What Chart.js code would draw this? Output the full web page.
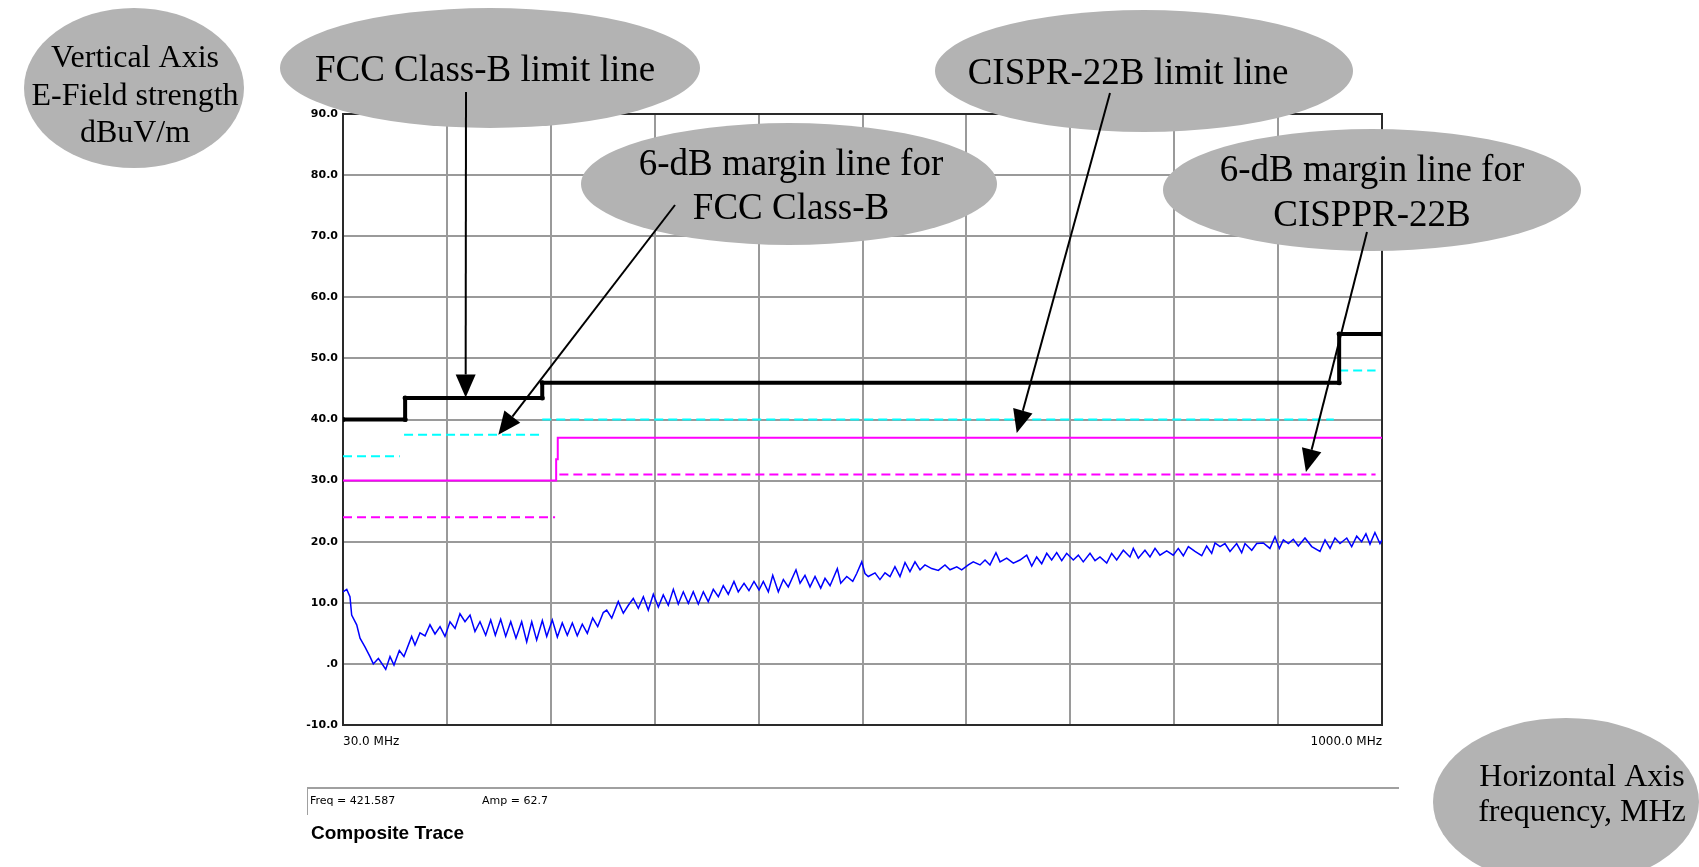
<!DOCTYPE html>
<html>
<head>
<meta charset="utf-8">
<title>Composite Trace</title>
<script src="https://cdn.jsdelivr.net/npm/chart.js@4.4.1/dist/chart.umd.min.js"></script>
<style>
  html, body { margin: 0; padding: 0; background: #fff; }
  #wrap { position: relative; width: 1699px; height: 867px; }
</style>
</head>
<body>
<div id="wrap"><canvas id="emiChart" width="1699" height="867"></canvas></div>
<script>
// Limit lines (MHz / dBuV/m)
const fccFreq = [30, 88, 88, 216, 216, 960, 960, 1000];
const fccLimit = [40, 40, 43.5, 43.5, 46, 46, 54, 54];

const fccMarginFreq = [30, 83, 85, 87, 216, 216, 216, 955, 957, 960, 994];
const fccMargin = [34, 34, null, 37.5, 37.5, null, 40, 40, null, 48, 48];

const cisprFreq = [30, 229, 229, 230.5, 230.5, 1000];
const cisprLimit = [30, 30, 33.5, 33.5, 37, 37];

const cisprMarginFreq = [30, 228, 230, 232, 994];
const cisprMargin = [24, 24, null, 31, 31];

// Composite trace
const traceFreq = [
  30, 33.5, 36.5, 38.1, 42.8, 45.9, 50.5, 55.2, 58.3, 63.0, 66.1, 69.9, 73.9, 77.6, 82.6, 86.9,
  94.1, 97.2, 101.9, 106.6, 111.2, 115.9, 120.6, 125.2, 129.9, 134.6, 139.2, 143.9, 148.6, 153.2,
  157.9, 163.2, 167.9, 172.2, 177.2, 181.9, 186.6, 191.5, 196.8, 201.5, 206.2, 210.8, 216.1, 220.2,
  225.4, 230.1, 234.7, 239.4, 244.1, 248.7, 253.4, 258.1, 263.1, 267.8, 273.0, 276.2, 280.9, 287.0,
  291.7, 296.4, 301.0, 305.7, 310.4, 315.0, 319.7, 324.4, 329.0, 333.7, 338.4, 343.0, 347.7, 352.4,
  357.0, 361.7, 366.4, 371.0, 375.7, 380.4, 385.0, 389.7, 395.0, 399.0, 404.4, 409.0, 413.7, 418.4,
  422.4, 427.1, 431.2, 436.4, 441.1, 445.7, 452.9, 456.7, 461.3, 466.0, 470.7, 476.0, 480.0, 484.7,
  491.5, 494.7, 500.3, 505.9, 509.6, 514.3, 517.3, 520.4, 526.7, 531.3, 536.0, 540.7, 545.3, 550.0,
  554.7, 559.3, 564.0, 568.7, 573.3, 579.6, 585.8, 592.0, 596.7, 603.0, 607.6, 613.8, 618.4, 624.7,
  629.4, 634.0, 639.6, 643.4, 649.6, 655.8, 662.0, 668.3, 673.0, 677.6, 682.3, 687.0, 691.6, 696.3,
  701.0, 705.6, 711.8, 716.5, 721.1, 727.4, 732.1, 736.7, 743.0, 747.6, 752.3, 758.5, 764.7, 767.8,
  772.5, 778.7, 783.4, 788.1, 792.7, 799.0, 805.1, 809.8, 814.5, 819.2, 825.4, 831.7, 836.3, 841.0,
  844.1, 848.8, 853.4, 858.1, 864.3, 869.0, 872.1, 878.4, 883.0, 889.2, 895.4, 900.1, 904.2, 907.9,
  912.6, 917.2, 921.9, 928.1, 934.4, 942.1, 946.8, 951.5, 956.1, 960.8, 967.1, 971.7, 976.4, 981.0,
  985.0, 988.8, 993.4, 998.1, 1000
];
const traceAmp = [
  11.8, 12.2, 11.0, 8.0, 6.4, 4.2, 2.8, 1.2, 0.0, 0.9, 0.1, -0.9, 1.2, -0.2, 2.2, 1.2,
  4.5, 3.1, 5.1, 4.6, 6.4, 4.9, 6.1, 4.5, 6.9, 5.8, 8.2, 6.9, 8.0, 5.3,
  6.9, 4.7, 7.2, 4.7, 7.3, 4.5, 6.9, 4.2, 6.9, 3.6, 6.9, 3.9, 7.1, 4.5,
  7.2, 4.4, 6.7, 4.7, 6.7, 4.6, 6.5, 5.0, 7.5, 6.1, 8.4, 8.8, 7.5, 10.2,
  8.3, 9.6, 10.7, 9.1, 11.0, 8.8, 11.4, 9.3, 11.3, 9.6, 12.2, 9.8, 11.8, 9.9,
  11.8, 9.8, 11.8, 10.2, 12.2, 11.0, 12.8, 11.4, 13.5, 11.8, 13.2, 12.0, 13.5, 12.1,
  13.5, 11.8, 14.5, 11.8, 13.8, 12.6, 15.4, 13.2, 14.5, 12.6, 14.3, 12.4, 14.0, 12.8,
  15.6, 13.2, 14.3, 13.5, 14.8, 16.7, 14.8, 14.3, 14.9, 13.8, 14.9, 14.3, 15.9, 14.3,
  16.6, 15.1, 16.7, 15.4, 16.2, 15.6, 15.3, 16.2, 15.4, 15.9, 15.4, 16.2, 16.7, 16.2,
  17.0, 16.2, 18.2, 16.7, 17.3, 16.5, 17.0, 17.8, 16.0, 17.5, 16.4, 18.1, 17.0, 18.2,
  16.9, 18.1, 17.0, 17.8, 16.7, 18.1, 16.9, 17.5, 16.5, 18.1, 17.0, 18.6, 17.5, 18.9,
  17.3, 18.6, 17.5, 18.9, 17.8, 18.5, 17.8, 18.9, 17.7, 19.2, 18.4, 17.7, 19.3, 18.1,
  19.8, 19.2, 19.7, 18.4, 19.7, 18.2, 19.7, 18.6, 19.7, 19.8, 18.9, 20.8, 18.9, 20.3,
  19.7, 20.4, 19.3, 20.6, 19.2, 18.4, 20.3, 18.9, 20.6, 19.7, 20.6, 19.2, 20.9, 20.0,
  21.3, 19.6, 21.5, 19.7, 20.3
];

const xTickLabels = ['30.0 MHz', '1000.0 MHz'];
const readoutText = ['Freq = 421.587', 'Amp = 62.7'];
const traceTitle = 'Composite Trace';

// Callout bubbles (page pixels) and the point on the chart each arrow hits
const bubbles = [
  { cx: 134, cy: 88, rx: 110, ry: 80, size: 32, lines: ['Vertical Axis', 'E-Field strength', 'dBuV/m'], baselines: [67, 105, 142], tx: 135 },
  { cx: 490, cy: 68, rx: 210, ry: 60, size: 37, lines: ['FCC Class-B limit line'], baselines: [81], tx: 485 },
  { cx: 789, cy: 184, rx: 208, ry: 61, size: 37, lines: ['6-dB margin line for', 'FCC Class-B'], baselines: [175, 219], tx: 791 },
  { cx: 1144, cy: 71, rx: 209, ry: 61, size: 37, lines: ['CISPR-22B limit line'], baselines: [84], tx: 1128 },
  { cx: 1372, cy: 190, rx: 209, ry: 61, size: 37, lines: ['6-dB margin line for', 'CISPPR-22B'], baselines: [181, 226], tx: 1372 },
  { cx: 1566, cy: 802, rx: 133, ry: 84, size: 32, lines: ['Horizontal Axis', 'frequency, MHz'], baselines: [786, 821], tx: 1582 }
];
const arrowTails = [[466, 92], [675, 205], [1110, 93], [1367, 232]];
const arrowTipFreq = [144.5, 175, 659, 929];
const arrowTipAmp = [43.6, 37.5, 37.8, 31.4];

function toPoints(freqs, vals) {
  return freqs.map((f, i) => ({ x: f, y: vals[i] }));
}

function drawArrow(ctx, x1, y1, x2, y2) {
  let a = Math.atan2(y2 - y1, x2 - x1);
  let headLen = 23, headHalf = 10;
  let bx = x2 - headLen * Math.cos(a);
  let by = y2 - headLen * Math.sin(a);
  ctx.strokeStyle = '#000';
  ctx.fillStyle = '#000';
  ctx.lineWidth = 2;
  ctx.beginPath();
  ctx.moveTo(x1, y1);
  ctx.lineTo(bx, by);
  ctx.stroke();
  ctx.beginPath();
  ctx.moveTo(x2, y2);
  ctx.lineTo(bx + headHalf * Math.sin(a), by - headHalf * Math.cos(a));
  ctx.lineTo(bx - headHalf * Math.sin(a), by + headHalf * Math.cos(a));
  ctx.closePath();
  ctx.fill();
}

const calloutPlugin = {
  id: 'callouts',
  beforeDatasetsDraw(chart) {
    // dark frame round the plot
    let ctx = chart.ctx;
    let area = chart.chartArea;
    ctx.save();
    ctx.strokeStyle = '#2a2a2a';
    ctx.lineWidth = 2;
    ctx.strokeRect(area.left, area.top, area.right - area.left, area.bottom - area.top);
    ctx.restore();
  },
  afterDraw(chart) {
    let ctx = chart.ctx;
    let area = chart.chartArea;
    let xs = chart.scales.x;
    let ys = chart.scales.y;
    ctx.save();

    // frequency labels at both ends of the x axis
    ctx.fillStyle = '#000';
    ctx.font = '12px "DejaVu Sans"';
    ctx.textBaseline = 'middle';
    ctx.textAlign = 'left';
    ctx.fillText(xTickLabels[0], xs.getPixelForValue(30), area.bottom + 17);
    ctx.textAlign = 'right';
    ctx.fillText(xTickLabels[1], xs.getPixelForValue(1000), area.bottom + 17);

    // readout strip
    ctx.strokeStyle = '#a0a0a0';
    ctx.lineWidth = 2;
    ctx.beginPath();
    ctx.moveTo(307, 788);
    ctx.lineTo(1399, 788);
    ctx.stroke();
    ctx.lineWidth = 1;
    ctx.beginPath();
    ctx.moveTo(307.5, 788);
    ctx.lineTo(307.5, 815);
    ctx.stroke();
    ctx.textAlign = 'left';
    ctx.font = '11px "DejaVu Sans"';
    ctx.fillText(readoutText[0], 310, 801);
    ctx.fillText(readoutText[1], 482, 801);
    ctx.font = 'bold 19px "Liberation Sans"';
    ctx.fillText(traceTitle, 311, 834);

    // grey bubbles
    bubbles.forEach(b => {
      ctx.fillStyle = '#b3b3b3';
      ctx.beginPath();
      ctx.ellipse(b.cx, b.cy, b.rx, b.ry, 0, 0, Math.PI * 2);
      ctx.fill();
      ctx.fillStyle = '#000';
      ctx.font = b.size + 'px "Liberation Serif"';
      ctx.textAlign = 'center';
      ctx.textBaseline = 'alphabetic';
      b.lines.forEach((line, i) => ctx.fillText(line, b.tx, b.baselines[i]));
    });

    // arrows to the lines
    arrowTails.forEach((t, i) => {
      drawArrow(ctx, t[0], t[1], xs.getPixelForValue(arrowTipFreq[i]), ys.getPixelForValue(arrowTipAmp[i]));
    });
    ctx.restore();
  }
};

let ctx = document.getElementById('emiChart').getContext('2d');
let emiChart = new Chart(ctx, {
  type: 'line',
  data: {
    datasets: [
      {
        label: 'FCC Class-B',
        data: toPoints(fccFreq, fccLimit),
        borderColor: '#000',
        backgroundColor: '#000',
        borderWidth: 4,
        pointRadius: 2.5,
        pointBorderWidth: 0
      },
      {
        label: 'CISPR-22B',
        data: toPoints(cisprFreq, cisprLimit),
        borderColor: '#ff00ff',
        borderWidth: 2
      },
      {
        label: 'FCC margin',
        data: toPoints(fccMarginFreq, fccMargin),
        borderColor: '#00ffff',
        borderWidth: 2,
        borderDash: [9, 5]
      },
      {
        label: 'CISPR margin',
        data: toPoints(cisprMarginFreq, cisprMargin),
        borderColor: '#ff00ff',
        borderWidth: 2,
        borderDash: [9, 5]
      },
      {
        label: 'Composite Trace',
        data: toPoints(traceFreq, traceAmp),
        borderColor: '#0000ff',
        borderWidth: 1.5
      }
    ]
  },
  options: {
    responsive: false,
    animation: false,
    devicePixelRatio: 1,
    layout: { padding: { left: 0, top: 114, right: 317, bottom: 142 } },
    plugins: {
      legend: { display: false },
      tooltip: { enabled: false }
    },
    elements: {
      line: { tension: 0, fill: false },
      point: { radius: 0 }
    },
    scales: {
      x: {
        type: 'linear',
        min: 30,
        max: 1000,
        ticks: { display: false, stepSize: 97 },
        grid: { color: '#9a9a9a', lineWidth: 2, drawTicks: false },
        border: { display: true, color: '#2a2a2a', width: 2 },
        afterFit: s => { s.height = 0; }
      },
      y: {
        min: -10,
        max: 90,
        ticks: {
          stepSize: 10,
          padding: 5,
          color: '#000',
          font: { family: 'DejaVu Sans', size: 11, weight: 'bold' },
          callback: v => (v === 0 ? '.0' : v.toFixed(1))
        },
        grid: { color: '#9a9a9a', lineWidth: 2, drawTicks: false },
        border: { display: true, color: '#2a2a2a', width: 2 },
        afterFit: s => { s.width = 343; }
      }
    }
  },
  plugins: [calloutPlugin]
});
</script>
</body>
</html>
